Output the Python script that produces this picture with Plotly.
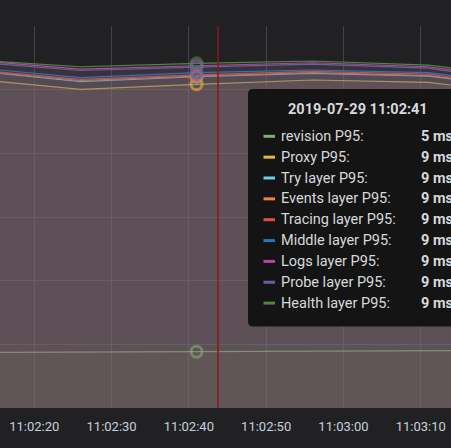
import plotly.graph_objects as go

# ---- data ----
times = ["2019-07-29 11:02:11", "2019-07-29 11:02:26", "2019-07-29 11:02:41",
         "2019-07-29 11:02:56", "2019-07-29 11:03:11", "2019-07-29 11:03:26"]

series_names = ["revision P95", "Proxy P95", "Try layer P95", "Events layer P95",
                "Tracing layer P95", "Middle layer P95", "Logs layer P95",
                "Probe layer P95", "Health layer P95"]
series_colors = ["#7EB26D", "#EAB839", "#6ED0E0", "#EF843C", "#E24D42",
                 "#1F78C1", "#BA43A9", "#705DA0", "#508642"]

revision = [4.873, 4.880, 4.884, 4.892, 4.898, 4.906]
proxy = [9.177, 9.006, 9.084, 9.152, 9.115, 8.902]
try_layer = [9.310, 9.125, 9.203, 9.257, 9.214, 8.977]
events = [9.313, 9.144, 9.214, 9.269, 9.222, 8.985]
tracing = [9.327, 9.163, 9.233, 9.288, 9.243, 9.006]
middle = [9.362, 9.188, 9.269, 9.309, 9.269, 9.048]
logs = [9.467, 9.324, 9.376, 9.423, 9.360, 9.100]
probe = [9.443, 9.301, 9.353, 9.400, 9.337, 9.076]
health = [9.474, 9.360, 9.414, 9.450, 9.387, 9.150]

series_values = [revision, proxy, try_layer, events, tracing, middle, logs, probe, health]

hover_index = 2
hover_title = "2019-07-29 11:02:41"
cursor_time = "2019-07-29 11:02:43.77"
x_range = ["2019-07-29 11:02:15.56", "2019-07-29 11:03:13.92"]
y_range = [4, 10]
tick_start = "2019-07-29 11:02:20"

# ---- layout helpers ----
W, H = 451, 448
PT, PB = 26, 408  # plot top / bottom in px


def px(xp):
    return xp / W


def py(yp):
    return (PB - yp) / (PB - PT)


def rgba(hexc, a):
    h = hexc.lstrip("#")
    r, g, b = int(h[0:2], 16), int(h[2:4], 16), int(h[4:6], 16)
    return f"rgba({r},{g},{b},{a})"


fig = go.Figure()

for name, color, vals in zip(series_names, series_colors, series_values):
    fig.add_trace(go.Scatter(
        x=times, y=vals, name=name, mode="lines",
        line=dict(color=color, width=1.2),
        fill="tozeroy", fillcolor=rgba(color, 0.1),
        showlegend=False, hoverinfo="skip"))

for name, color, vals in zip(series_names, series_colors, series_values):
    fig.add_trace(go.Scatter(
        x=[times[hover_index]], y=[vals[hover_index]], mode="markers",
        marker=dict(symbol="circle-open", size=11, color=color,
                    line=dict(width=3, color=color)),
        opacity=0.6, showlegend=False, hoverinfo="skip"))

shapes = []
# crosshair
shapes.append(dict(type="line", xref="x", yref="paper", x0=cursor_time, x1=cursor_time,
                   y0=0, y1=1, line=dict(color="#8c161c", width=1.5), layer="above"))

# tooltip box with rounded corners
bx0, by0, bx1, by1, r = 248, 89, 470, 326.5, 5
path = (f"M {px(bx0 + r)},{py(by0)} L {px(bx1)},{py(by0)} L {px(bx1)},{py(by1)} "
        f"L {px(bx0 + r)},{py(by1)} Q {px(bx0)},{py(by1)} {px(bx0)},{py(by1 - r)} "
        f"L {px(bx0)},{py(by0 + r)} Q {px(bx0)},{py(by0)} {px(bx0 + r)},{py(by0)} Z")
shapes.append(dict(type="path", xref="paper", yref="paper", path=path,
                   fillcolor="#141414", line=dict(width=0), layer="above"))

annotations = []
annotations.append(dict(xref="paper", yref="paper", x=px(286.5), y=py(109.5),
                        xanchor="left", yanchor="middle", showarrow=False, borderpad=0,
                        text=hover_title,
                        font=dict(family="Roboto", size=14.5, color="#d8d9da", weight="bold")))

row0, dy = 136.3, 20.85
for i, (name, color, vals) in enumerate(zip(series_names, series_colors, series_values)):
    yc = row0 + i * dy
    shapes.append(dict(type="line", xref="paper", yref="paper",
                       x0=px(263.5), x1=px(275), y0=py(yc), y1=py(yc),
                       line=dict(color=color, width=3), layer="above"))
    annotations.append(dict(xref="paper", yref="paper", x=px(279.5), y=py(yc),
                            xanchor="left", yanchor="middle", showarrow=False, borderpad=0,
                            text=name + ":",
                            font=dict(family="Roboto", size=14.5, color="#d8d9da")))
    annotations.append(dict(xref="paper", yref="paper", x=px(420), y=py(yc),
                            xanchor="left", yanchor="middle", showarrow=False, borderpad=0,
                            text=f"{round(vals[hover_index])} ms",
                            font=dict(family="Roboto", size=14.5, color="#d8d9da", weight="bold")))

grid = "#434346"
fig.update_layout(
    width=W, height=H,
    margin=dict(l=0, r=0, t=PT, b=H - PB, pad=0),
    paper_bgcolor="#212124", plot_bgcolor="#212124",
    xaxis=dict(type="date", range=x_range, tick0=tick_start, dtick=10000,
               tickformat="%H:%M:%S", showgrid=True, gridcolor=grid, gridwidth=1,
               zeroline=False, showline=False, ticks="outside", ticklen=6,
               tickcolor="rgba(0,0,0,0)",
               tickfont=dict(family="Roboto", size=13, color="#c7d0d9")),
    yaxis=dict(range=y_range, dtick=1, showticklabels=False, showgrid=True,
               gridcolor=grid, gridwidth=1, zeroline=False, showline=False),
    shapes=shapes, annotations=annotations,
)

fig.write_html(
    "out.html",
    config={"displayModeBar": False},
    post_script="document.body.style.margin='0';document.body.style.padding='0';"
                "document.body.style.overflow='hidden';"
                "document.body.style.background='#212124';",
)
